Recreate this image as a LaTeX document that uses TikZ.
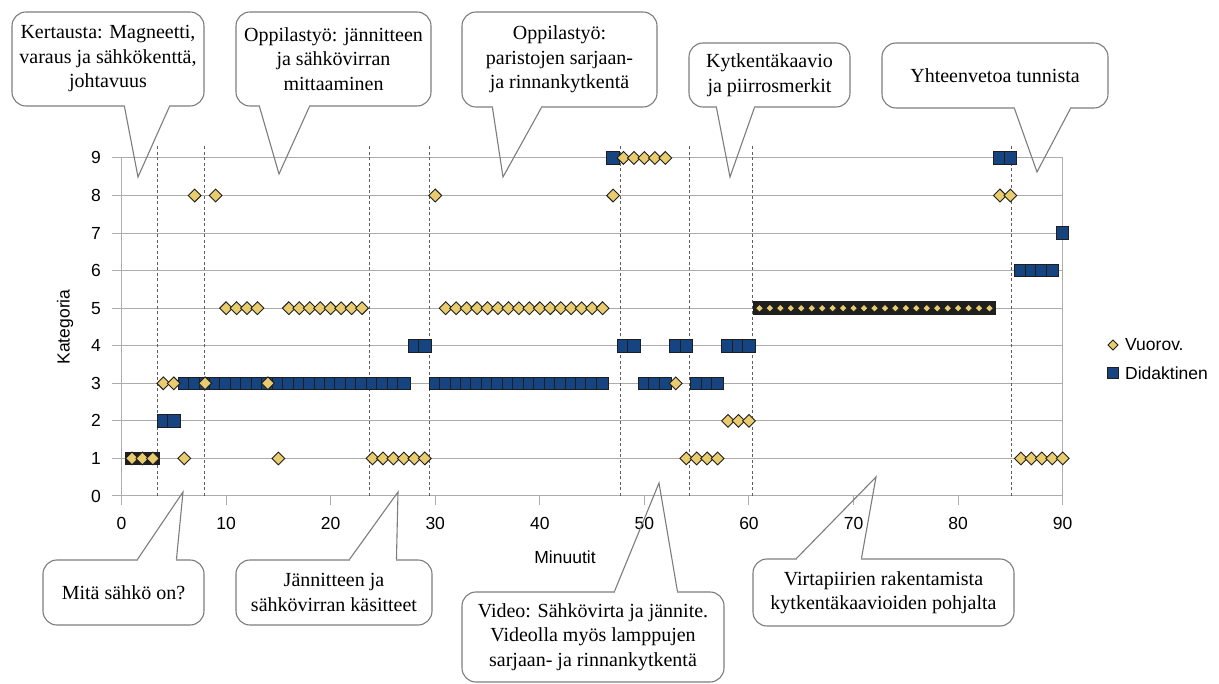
\documentclass[tikz,border=0pt]{standalone}
\usepackage{fontspec}
\setmainfont{Liberation Serif}
\newfontfamily\chartsans{Liberation Sans}
\usetikzlibrary{calc}

\definecolor{gridgray}{RGB}{172,172,172}
\definecolor{guidegray}{RGB}{95,95,95}
\definecolor{bubblegray}{RGB}{125,125,125}
\definecolor{vfill}{RGB}{233,204,110}
\definecolor{dfill}{RGB}{22,68,128}
\definecolor{markedge}{RGB}{30,30,30}

\tikzset{
  gridline/.style={draw=gridgray, line width=1pt},
  guideline/.style={draw=guidegray, line width=0.8pt, dash pattern=on 3pt off 2.5pt},
  chartlabel/.style={font=\chartsans\fontsize{17.5}{20}\selectfont, inner sep=0pt},
  bubble/.style={draw=bubblegray, line width=1.1pt, fill=white, rounded corners=14pt,
    align=center, inner sep=0pt, font=\fontsize{20}{24.5}\selectfont},
  bubbleline/.style={draw=bubblegray, line width=1.1pt, line join=miter},
  pics/vmark/.style={code={\filldraw[fill=vfill, draw=markedge, line width=0.9pt]
    (0pt,#1) -- (#1,0pt) -- (0pt,-#1) -- (-#1,0pt) -- cycle;}},
  pics/vmark/.default=6.4pt,
  pics/dmark/.style={code={\filldraw[fill=dfill, draw=markedge, line width=0.9pt]
    (-#1,-#1) rectangle (#1,#1);}},
  pics/dmark/.default=6.2pt,
  pics/bmark/.style={code={\fill[black!88] (-6.8pt,-6.8pt) rectangle (6.8pt,6.8pt);}},
}

% pointer of a callout: base on the lower or upper edge of the box, ending at a tip
\newcommand\tailbelow[4]{%
  \draw[white, line width=2.6pt, shorten <=0.7pt, shorten >=0.7pt]
    ($(#1.south west)+(#2,0)$) -- ($(#1.south west)+(#3,0)$);
  \draw[bubbleline] ($(#1.south west)+(#2,0)$) -- (#4) -- ($(#1.south west)+(#3,0)$);
}
\newcommand\tailabove[4]{%
  \draw[white, line width=2.6pt, shorten <=0.7pt, shorten >=0.7pt]
    ($(#1.north west)+(#2,0)$) -- ($(#1.north west)+(#3,0)$);
  \draw[bubbleline] ($(#1.north west)+(#2,0)$) -- (#4) -- ($(#1.north west)+(#3,0)$);
}

\begin{document}
\begin{tikzpicture}[x=1pt, y=-1pt]
\fill[white] (0,0) rectangle (1219,684);
\useasboundingbox (0,0) rectangle (1219,684);

% ---------------- chart (minutes on x, category on y) ----------------
\begin{scope}[shift={(121.5,496)}, x=10.458pt, y=37.56pt]
  \foreach \c in {1,...,9} \draw[gridline] (0,\c) -- (90,\c);
  \draw[gridline] (0,0) -- (90,0);
  \draw[gridline] (0,0) -- (0,9);
  \draw[gridline] (90,0) -- (90,9);
  \foreach \c in {0,...,9} {
    \draw[gridline] (0,\c) -- ++(-10pt,0pt);
    \node[chartlabel, anchor=east] (yt\c) at ([xshift=-20.5pt]0,\c) {\c};
  }
  \foreach \m in {0,10,...,90} {
    \draw[gridline] (\m,0) -- ++(0pt,-9pt);
    \node[chartlabel] (xt\m) at ([yshift=-27.5pt]\m,0) {\m};
  }

  % phase boundaries
  \foreach \m in {3.46,7.89,23.7,29.43,47.73,54.29,60.32,85.12}
    \draw[guideline] (\m,0) -- (\m,9.32);

  % dark strips
  \foreach \m in {1,2,3} \pic at (\m,1) {bmark};
  \foreach \m in {61,...,83} \pic at (\m,5) {bmark};

  % Didaktinen
  \foreach \m in {4,5} \pic at (\m,2) {dmark};
  \foreach \m in {6,...,27} \pic at (\m,3) {dmark};
  \foreach \m in {30,...,46} \pic at (\m,3) {dmark};
  \foreach \m in {50,51,52,55,56,57} \pic at (\m,3) {dmark};
  \foreach \m in {28,29,48,49,53,54,58,59,60} \pic at (\m,4) {dmark};
  \foreach \m in {86,87,88,89} \pic at (\m,6) {dmark};
  \pic at (90,7) {dmark};
  \foreach \m in {47,84,85} \pic at (\m,9) {dmark};

  % Vuorov.
  \foreach \m in {1,2,3,6,15,24,25,26,27,28,29,54,55,56,57,86,87,88,89,90} \pic at (\m,1) {vmark};
  \foreach \m in {58,59,60} \pic at (\m,2) {vmark};
  \foreach \m in {4,5,8,14,53} \pic at (\m,3) {vmark};
  \foreach \m in {10,11,12,13,16,17,18,19,20,21,22,23} \pic at (\m,5) {vmark};
  \foreach \m in {31,...,46} \pic at (\m,5) {vmark};
  \foreach \m in {61,...,83} \pic at (\m,5) {vmark=4pt};
  \foreach \m in {7,9,30,47,84,85} \pic at (\m,8) {vmark};
  \foreach \m in {48,...,52} \pic at (\m,9) {vmark};
\end{scope}

% axis titles
\node[chartlabel, rotate=90] (ytitle) at (65,327) {Kategoria};
\node[chartlabel] (xtitle) at (565,557) {Minuutit};

% legend
\pic at (1113,345) {vmark=5pt};
\node[chartlabel, anchor=west] (legv) at (1125,345) {Vuorov.};
\pic at (1113,373) {dmark=5.5pt};
\node[chartlabel, anchor=west] (legd) at (1125,373) {Didaktinen};

% ---------------- callouts ----------------
\node[bubble, minimum width=192pt, minimum height=94pt] (b1) at (108,59)
  {Kertausta: Magneetti,\\varaus ja sähkökenttä,\\johtavuus};
\coordinate (t1) at (138,177);
\tailbelow{b1}{113}{158}{t1}

\node[bubble, minimum width=195pt, minimum height=94pt] (b2) at (333.5,59)
  {Oppilastyö: jännitteen\\ja sähkövirran\\mittaaminen};
\coordinate (t2) at (279,174);
\tailbelow{b2}{24}{74}{t2}

\node[bubble, minimum width=195pt, minimum height=95pt] (b3) at (559.5,59.5)
  {Oppilastyö:\\paristojen sarjaan-\\ja rinnankytkentä};
\coordinate (t3) at (503,177);
\tailbelow{b3}{31}{80}{t3}

\node[bubble, minimum width=161pt, minimum height=64pt] (b4) at (769.5,75)
  {Kytkentäkaavio\\ja piirrosmerkit};
\coordinate (t4) at (730,177);
\tailbelow{b4}{28}{66}{t4}

\node[bubble, minimum width=226pt, minimum height=65pt] (b5) at (995,75.5)
  {Yhteenvetoa tunnista};
\coordinate (t5) at (1037,172);
\tailbelow{b5}{133}{189}{t5}

\node[bubble, minimum width=161pt, minimum height=65pt] (b6) at (123.5,592.5)
  {Mitä sähkö on?};
\coordinate (t6) at (183,492);
\tailabove{b6}{95}{134}{t6}

\node[bubble, minimum width=196pt, minimum height=65pt] (b7) at (334,592.5)
  {Jännitteen ja\\sähkövirran käsitteet};
\coordinate (t7) at (398,492);
\tailabove{b7}{114}{161}{t7}

\node[bubble, minimum width=262pt, minimum height=90pt] (b8) at (593,637)
  {Video: Sähkövirta ja jännite.\\Videolla myös lamppujen\\sarjaan- ja rinnankytkentä};
\coordinate (t8) at (659,483);
\tailabove{b8}{153}{216}{t8}

\node[bubble, minimum width=261pt, minimum height=67pt] (b9) at (883.5,592.5)
  {Virtapiirien rakentamista\\kytkentäkaavioiden pohjalta};
\coordinate (t9) at (876,477);
\tailabove{b9}{44}{109}{t9}
\end{tikzpicture}
\end{document}
